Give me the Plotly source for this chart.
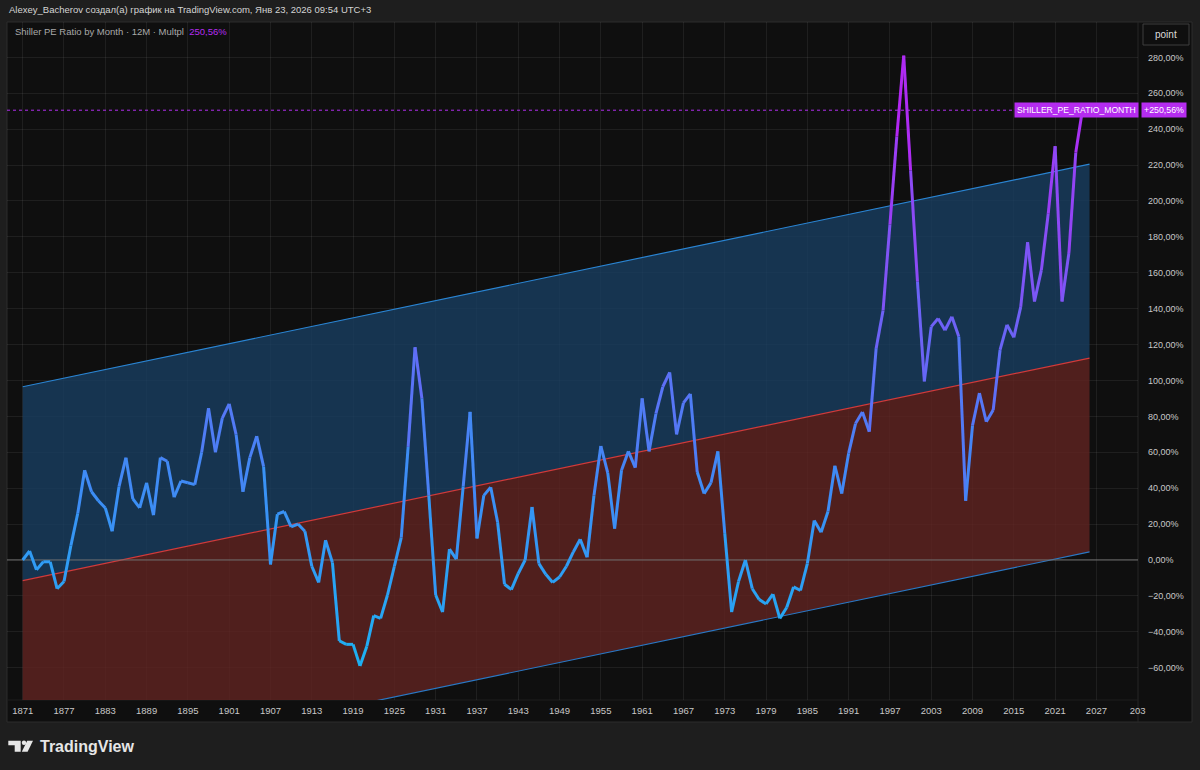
import plotly.graph_objects as go

# ---------------- data ----------------
years = list(range(1871, 2027))
pct_change = [
    0, 5, -5.5, -1, -1, -16, -12, 8, 26, 50,            # 1871-1880
    38, 33, 29, 16, 41, 57, 34, 29, 43, 25,             # 1881-1890
    57, 55, 35, 44, 43, 42, 60, 84.5, 60, 79,           # 1891-1900
    87, 70, 38, 57, 69, 52, -2.5, 25.5, 27, 18.5,       # 1901-1910
    20, 16, -3.5, -12.5, 11, -1.5, -45, -47, -47, -59,  # 1911-1920
    -48, -31, -32.5, -19.5, -3.5, 12.5, 63, 118.5, 90, 36,   # 1921-1930
    -19.5, -29, 6, 0.5, 41, 82.5, 12, 36, 40.5, 21,     # 1931-1940
    -13.5, -16.5, -7.5, 0, 29.5, -2, -8, -12.5, -9.5, -3.5,  # 1941-1950
    4.5, 11.5, 1.5, 36, 63.5, 48.5, 17.5, 50, 60.5, 51.5,    # 1951-1960
    90, 60.5, 81.5, 96.5, 104.5, 70, 87.5, 92.5, 49, 37,     # 1961-1970
    43, 60.5, 15, -29, -12, 0, -16, -22, -24.5, -19,    # 1971-1980
    -32.5, -26.5, -15, -17, -2, 22, 15.5, 27, 52.5, 37,      # 1981-1990
    59.5, 76, 82.5, 71.5, 118, 139, 187, 236, 281, 217,      # 1991-2000
    155, 99.5, 130, 134.5, 128, 135.5, 124.5, 33, 75, 93,    # 2001-2010
    77, 83.5, 117, 131, 124, 141, 177, 144, 161.5, 193,      # 2011-2020
    230.5, 144, 171, 227, 251.5, 250.56,                # 2021-2026
]

channel_years = [1871, 2026]
channel_mid = [-11.5, 112.5]
channel_upper = [96.5, 220.5]
channel_lower = [-119.5, 4.5]

x_tick_years = list(range(1871, 2034, 6))
x_tick_text = [str(y) for y in x_tick_years[:-1]] + ["203"]
y_tick_vals = list(range(-60, 281, 20))

series_name = "SHILLER_PE_RATIO_MONTH"
last_value = pct_change[-1]

# ---------------- helpers ----------------
def fmt_pct(v, sign=False):
    s = f"{abs(v):.2f}".replace(".", ",") + "%"
    if v < 0:
        return "\u2212" + s
    return ("+" + s) if sign else s

y_tick_text = [fmt_pct(v) for v in y_tick_vals]

# plot area in pixels
L, R, T, B = 7, 1138, 22, 700
def px(xp):
    return (xp - L) / (R - L)
def py(yp):
    return (B - yp) / (B - T)

stops = [(-60, (28, 178, 242)), (40, (62, 140, 245)), (120, (104, 102, 246)),
         (200, (148, 68, 245)), (290, (196, 24, 242))]
def grad(v):
    if v <= stops[0][0]:
        c = stops[0][1]
    elif v >= stops[-1][0]:
        c = stops[-1][1]
    else:
        for (v0, c0), (v1, c1) in zip(stops[:-1], stops[1:]):
            if v0 <= v <= v1:
                t = (v - v0) / (v1 - v0)
                c = tuple(c0[i] + t * (c1[i] - c0[i]) for i in range(3))
                break
    return "rgb(%d,%d,%d)" % tuple(int(round(k)) for k in c)

FONT = "Liberation Sans, Arial, sans-serif"

x_range = [1868.72, 2033.04]
y_range = [-78.0, 299.7]

fig = go.Figure()

# channel
fig.add_trace(go.Scatter(x=channel_years, y=channel_lower, mode="lines",
                         line=dict(color="#2a78c4", width=1.2), hoverinfo="skip"))
fig.add_trace(go.Scatter(x=channel_years, y=channel_mid, mode="lines",
                         line=dict(color="#d23a3a", width=1.2), fill="tonexty",
                         fillcolor="rgba(96,35,32,0.8)", hoverinfo="skip"))
fig.add_trace(go.Scatter(x=channel_years, y=channel_upper, mode="lines",
                         line=dict(color="#2a84d2", width=1.2), fill="tonexty",
                         fillcolor="rgba(24,61,96,0.8)", hoverinfo="skip"))

# zero baseline
fig.add_trace(go.Scatter(x=x_range, y=[0, 0], mode="lines",
                         line=dict(color="#707070", width=1), hoverinfo="skip"))

# gradient series as coloured segments
for i in range(len(years) - 1):
    v = (pct_change[i] + pct_change[i + 1]) / 2
    fig.add_trace(go.Scatter(x=years[i:i + 2], y=pct_change[i:i + 2], mode="lines",
                             line=dict(color=grad(v), width=3), hoverinfo="skip"))

shapes = [
    # chart frame
    dict(type="rect", xref="paper", yref="paper", x0=px(7), x1=px(1192), y0=py(722), y1=py(22),
         fillcolor="#0f0f0f", line=dict(color="#2c2c2c", width=1), layer="below"),
    # price axis separator
    dict(type="line", xref="paper", yref="paper", x0=px(1138), x1=px(1138), y0=py(722), y1=py(22),
         line=dict(color="#262626", width=1), layer="below"),
    # time axis separator
    dict(type="line", xref="paper", yref="paper", x0=px(7), x1=px(1138), y0=py(700), y1=py(700),
         line=dict(color="#1e1e1e", width=1), layer="below"),
    # point button
    dict(type="rect", xref="paper", yref="paper", x0=px(1143), x1=px(1189), y0=py(45), y1=py(24),
         fillcolor="#0f0f0f", line=dict(color="#3e3e3e", width=1), layer="above"),
    # dotted last-value line
    dict(type="line", xref="paper", yref="y", x0=px(7), x1=px(1022), y0=last_value, y1=last_value,
         line=dict(color="#b22ef0", width=1, dash="dot"), layer="above"),
    # TradingView logo glyph
    dict(type="path", xref="paper", yref="paper",
         path="M %f %f L %f %f L %f %f L %f %f L %f %f L %f %f Z" % (
             px(8.3), py(740.7), px(20.7), py(740.7), px(20.7), py(751.7),
             px(14.7), py(751.7), px(14.7), py(745.2), px(8.3), py(745.2)),
         fillcolor="#e6e6e6", line=dict(width=0), layer="above"),
    dict(type="circle", xref="paper", yref="paper", x0=px(21.8), x1=px(26.2), y0=py(745.0), y1=py(740.6),
         fillcolor="#e6e6e6", line=dict(width=0), layer="above"),
    dict(type="path", xref="paper", yref="paper",
         path="M %f %f L %f %f L %f %f L %f %f Z" % (
             px(27.2), py(740.7), px(33.0), py(740.7), px(27.6), py(751.7), px(21.8), py(751.7)),
         fillcolor="#e6e6e6", line=dict(width=0), layer="above"),
]

annotations = [
    dict(xref="paper", yref="paper", x=px(7), y=py(10), xanchor="left", yanchor="middle",
         text="Alexey_Bacherov создал(а) график на TradingView.com, Янв 23, 2026 09:54 UTC+3",
         showarrow=False, font=dict(family=FONT, size=9.5, color="#d4d4d4")),
    dict(xref="paper", yref="paper", x=px(13), y=py(32), xanchor="left", yanchor="middle",
         text="Shiller PE Ratio by Month · 12M · Multpl  <span style='color:#b52cf0'>" + fmt_pct(last_value) + "</span>",
         showarrow=False, font=dict(family=FONT, size=9.5, color="#a9a9a9")),
    dict(xref="paper", yref="paper", x=px(1166), y=py(34.5), xanchor="center", yanchor="middle",
         text="point", showarrow=False, font=dict(family=FONT, size=10, color="#dcdcdc")),
    dict(xref="paper", yref="y", x=px(1139), y=last_value, xanchor="right", yanchor="middle",
         text=series_name, showarrow=False, bgcolor="#b52cf0", borderpad=2,
         font=dict(family=FONT, size=8.6, color="#ffffff")),
    dict(xref="paper", yref="y", x=px(1141), y=last_value, xanchor="left", yanchor="middle",
         text=fmt_pct(last_value, sign=True), showarrow=False, bgcolor="#b52cf0", borderpad=2,
         font=dict(family=FONT, size=8.8, color="#ffffff")),
    dict(xref="paper", yref="paper", x=px(38), y=py(746.5), xanchor="left", yanchor="middle",
         text="<b>TradingView</b>", showarrow=False,
         font=dict(family=FONT, size=16, color="#e6e6e6")),
]

fig.update_layout(
    width=1200, height=770, autosize=False,
    margin=dict(l=L, r=1200 - R, t=T, b=770 - B),
    paper_bgcolor="#1e1e1e", plot_bgcolor="#0f0f0f",
    showlegend=False, hovermode=False,
    shapes=shapes, annotations=annotations,
    xaxis=dict(range=x_range, tickmode="array", tickvals=x_tick_years, ticktext=x_tick_text,
               showgrid=True, gridcolor="rgba(255,255,255,0.065)", gridwidth=1,
               zeroline=False, showline=False, ticks="", ticklabelstandoff=3,
               tickfont=dict(family=FONT, size=9.5, color="#c8c8c8"), fixedrange=True),
    yaxis=dict(range=y_range, side="right", tickmode="array", tickvals=y_tick_vals, ticktext=y_tick_text,
               showgrid=True, gridcolor="rgba(255,255,255,0.065)", gridwidth=1,
               zeroline=False, showline=False, ticks="", ticklabelstandoff=9,
               tickfont=dict(family=FONT, size=9, color="#c8c8c8"), fixedrange=True),
)

fig.write_html("out.html")
